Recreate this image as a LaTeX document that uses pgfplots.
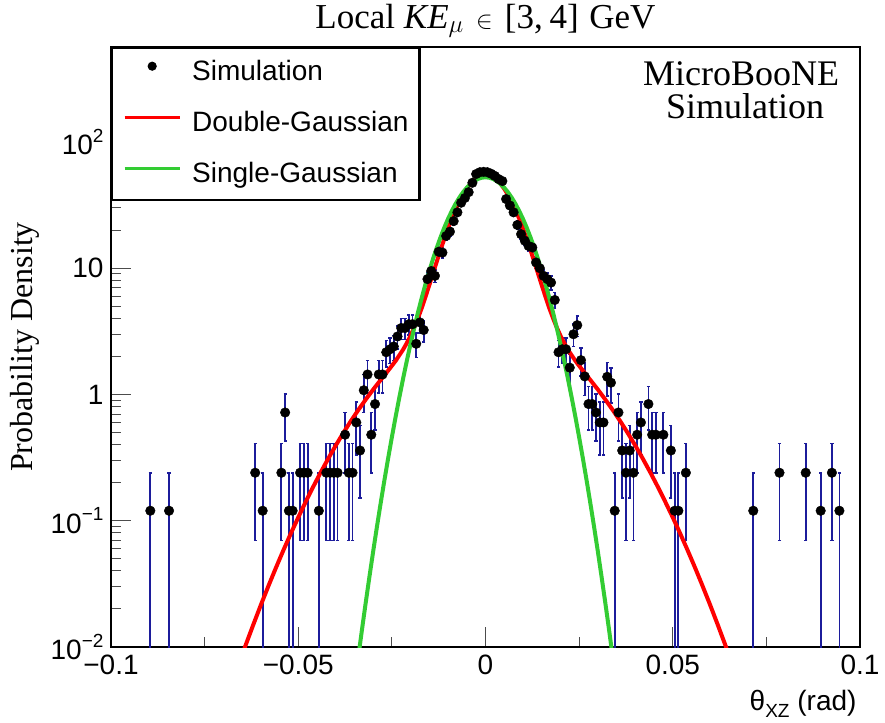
\documentclass[border=0pt]{standalone}
\usepackage{fontspec}
\setmainfont{Liberation Serif}
\newfontfamily\hel{Liberation Sans}
\usepackage{pgfplots}
\pgfplotsset{compat=1.18}
\usepackage{pgfplotstable}
\definecolor{ebar}{RGB}{28,28,155}
\definecolor{rootred}{RGB}{255,0,0}
\definecolor{rootgreen}{RGB}{51,204,51}

\pgfplotstableread{
x y e
-0.0895 0.12 0.1199
-0.0845 0.12 0.1199
-0.0615 0.24 0.170
-0.0595 0.12 0.1199
-0.0545 0.24 0.170
-0.0535 0.72 0.294
-0.0525 0.12 0.1199
-0.0515 0.12 0.1199
-0.0495 0.24 0.170
-0.0485 0.24 0.170
-0.0475 0.24 0.170
-0.0445 0.12 0.1199
-0.0425 0.24 0.170
-0.0415 0.24 0.170
-0.0405 0.24 0.170
-0.0395 0.24 0.170
-0.0375 0.48 0.240
-0.0365 0.24 0.170
-0.0355 0.24 0.170
-0.0345 0.60 0.268
-0.0335 0.36 0.208
-0.0325 1.08 0.360
-0.0315 1.44 0.416
-0.0305 0.48 0.240
-0.0295 0.84 0.317
-0.0285 1.44 0.416
-0.0275 1.44 0.416
-0.0265 2.16 0.509
-0.0255 2.28 0.523
-0.0245 2.40 0.537
-0.0235 2.88 0.588
-0.0225 3.36 0.635
-0.0215 3.36 0.635
-0.0205 3.60 0.657
-0.0195 3.60 0.657
-0.0185 2.52 0.550
-0.0175 3.72 0.668
-0.0165 3.24 0.624
-0.0155 8.2 0.99
-0.0145 9.5 1.07
-0.0135 8.7 1.02
-0.0125 13.5 1.27
-0.0115 13.3 1.26
-0.0105 18.0 1.47
-0.0095 19.5 1.53
-0.0085 23.6 1.68
-0.0075 27.7 1.82
-0.0065 33.0 1.99
-0.0055 36.0 2.08
-0.0045 40.0 2.19
-0.0035 47.5 2.39
-0.0025 55.7 2.59
-0.0015 57.6 2.63
-0.0005 58.0 2.64
0.0005 57.6 2.63
0.0015 56.0 2.59
0.0025 53.8 2.54
0.0035 50.8 2.47
0.0045 49.0 2.42
0.0055 35.3 2.06
0.0065 31.4 1.94
0.0075 27.7 1.82
0.0085 22.0 1.62
0.0095 18.6 1.49
0.0105 16.5 1.41
0.0115 15.0 1.34
0.0125 14.6 1.32
0.0135 11.1 1.15
0.0145 10.0 1.10
0.0155 8.7 1.02
0.0165 8.2 0.99
0.0175 7.7 0.96
0.0185 5.6 0.82
0.0195 2.16 0.509
0.0205 2.28 0.523
0.0215 2.28 0.523
0.0225 1.63 0.443
0.0235 3.0 0.60
0.0245 3.54 0.652
0.0255 1.87 0.474
0.0265 1.39 0.408
0.0275 0.84 0.317
0.0285 0.84 0.317
0.0295 0.72 0.294
0.0305 0.60 0.268
0.0315 0.60 0.268
0.0325 1.38 0.407
0.0335 1.24 0.385
0.0345 0.12 0.1199
0.0355 0.72 0.294
0.0365 0.36 0.208
0.0375 0.24 0.170
0.0385 0.36 0.208
0.0395 0.24 0.170
0.0405 0.48 0.240
0.0415 0.60 0.268
0.0435 0.84 0.317
0.0445 0.48 0.240
0.0455 0.48 0.240
0.0475 0.48 0.240
0.0495 0.36 0.208
0.0505 0.12 0.1199
0.0515 0.12 0.1199
0.0535 0.24 0.170
0.0715 0.12 0.1199
0.0785 0.24 0.170
0.0855 0.24 0.170
0.0895 0.12 0.1199
0.0925 0.24 0.170
0.0945 0.12 0.1199
}\simdata

\pgfplotstableread{
x y
-0.065 0.00864
-0.064 0.01043
-0.062 0.01504
-0.060 0.02146
-0.058 0.03025
-0.056 0.04215
-0.054 0.05806
-0.052 0.07906
-0.050 0.1063
-0.048 0.1414
-0.046 0.1860
-0.044 0.2416
-0.042 0.3103
-0.040 0.3939
-0.038 0.4941
-0.036 0.6129
-0.034 0.7515
-0.032 0.9107
-0.030 1.094
-0.028 1.302
-0.026 1.545
-0.024 1.847
-0.022 2.268
-0.021 2.558
-0.020 2.928
-0.019 3.412
-0.018 4.048
-0.017 4.857
-0.016 5.966
-0.015 7.361
-0.014 9.128
-0.013 11.31
-0.012 13.97
-0.011 17.09
-0.010 20.69
-0.009 24.71
-0.008 29.06
-0.007 33.61
-0.006 38.19
-0.005 42.59
-0.004 46.59
-0.003 49.99
-0.002 52.57
-0.001 54.19
0.000 54.74
0.001 54.19
0.002 52.57
0.003 49.99
0.004 46.59
0.005 42.59
0.006 38.19
0.007 33.61
0.008 29.06
0.009 24.71
0.010 20.69
0.011 17.09
0.012 13.97
0.013 11.31
0.014 9.128
0.015 7.361
0.016 5.966
0.017 4.857
0.018 4.048
0.019 3.412
0.020 2.928
0.021 2.558
0.022 2.268
0.024 1.847
0.026 1.545
0.028 1.302
0.030 1.094
0.032 0.9107
0.034 0.7515
0.036 0.6129
0.038 0.4941
0.040 0.3939
0.042 0.3103
0.044 0.2416
0.046 0.1860
0.048 0.1414
0.050 0.1063
0.052 0.07906
0.054 0.05806
0.056 0.04215
0.058 0.03025
0.060 0.02146
0.062 0.01504
0.064 0.01043
0.065 0.00864
}\doublegaus

\pgfplotstableread{
x y
-0.034 0.008197
-0.033 0.01362
-0.032 0.02229
-0.031 0.0359
-0.030 0.05702
-0.029 0.0892
-0.028 0.1374
-0.027 0.2087
-0.026 0.3118
-0.025 0.4590
-0.024 0.6656
-0.023 0.9503
-0.022 1.337
-0.021 1.853
-0.020 2.528
-0.019 3.398
-0.018 4.499
-0.017 5.867
-0.016 7.534
-0.015 9.534
-0.014 11.88
-0.013 14.57
-0.012 17.61
-0.011 20.97
-0.010 24.60
-0.009 28.40
-0.008 32.31
-0.007 36.21
-0.006 39.96
-0.005 43.43
-0.004 46.50
-0.003 49.04
-0.002 50.93
-0.001 52.10
0.000 52.50
0.001 52.10
0.002 50.93
0.003 49.04
0.004 46.50
0.005 43.43
0.006 39.96
0.007 36.21
0.008 32.31
0.009 28.40
0.010 24.60
0.011 20.97
0.012 17.61
0.013 14.57
0.014 11.88
0.015 9.534
0.016 7.534
0.017 5.867
0.018 4.499
0.019 3.398
0.020 2.528
0.021 1.853
0.022 1.337
0.023 0.9503
0.024 0.6656
0.025 0.4590
0.026 0.3118
0.027 0.2087
0.028 0.1374
0.029 0.0892
0.030 0.05702
0.031 0.0359
0.032 0.02229
0.033 0.01362
0.034 0.008197
}\singlegaus

\newcommand{\expo}[1]{\raisebox{0.45em}{\fontsize{19}{19}\selectfont #1}}

\begin{document}
\begin{tikzpicture}
\useasboundingbox (-111pt,-75pt) rectangle (774pt,647pt);
\begin{axis}[
  at={(0pt,0pt)}, anchor=south west,
  scale only axis, width=749pt, height=600pt,
  xmin=-0.1, xmax=0.1, ymode=log, ymin=0.01, ymax=565,
  axis line style={line width=2.4pt},
  tick align=inside, xtick pos=bottom, ytick pos=left,
  major tick length=20pt, minor tick length=10pt,
  every tick/.style={black!70, line width=1pt},
  xtick={-0.1,-0.05,0,0.05,0.1},
  xticklabels={−0.1,−0.05,0,0.05,0.1},
  minor xtick={-0.075,-0.025,0.025,0.075},
  ytick={0.01,0.1,1,10,100},
  yticklabels={10\expo{−2},10\expo{−1},1,10,10\expo{2}},
  minor ytick={0.02,0.03,0.04,0.05,0.06,0.07,0.08,0.09,0.2,0.3,0.4,0.5,0.6,0.7,0.8,0.9,2,3,4,5,6,7,8,9,20,30,40,50,60,70,80,90,200,300,400,500},
  ticklabel style={font=\hel\fontsize{28}{30}\selectfont},
  xticklabel style={yshift=-4pt},
  yticklabel style={xshift=-4pt},
  legend style={at={(0,1)}, anchor=north west, draw=black, line width=2.4pt,
    font=\hel\fontsize{28}{30}\selectfont, inner xsep=11pt, inner ysep=12pt,
    row sep=25pt, column sep=11pt,
    nodes={inner sep=0pt, text height=20pt, text depth=6pt}},
  legend cell align=left,
]
\addplot[only marks, mark=*, mark size=4.8pt, black,
  legend image code/.code={\fill[black] (27.5pt,7pt) circle (3.3pt);},
  error bars/.cd, y dir=both, y explicit,
  error bar style={ebar, line width=1.8pt},
  error mark options={ebar, rotate=90, mark size=1.6pt, line width=1.6pt}]
  table[x=x, y=y, y error=e] {\simdata};
\addlegendentry{Simulation}
\addplot[rootred, line width=4pt, no marks,
  legend image code/.code={\draw[rootred, line width=3pt] (0pt,7pt) -- (55pt,7pt);}]
  table[x=x, y=y] {\doublegaus};
\addlegendentry{Double-Gaussian\hspace{7pt}}
\addplot[rootgreen, line width=4pt, no marks,
  legend image code/.code={\draw[rootgreen, line width=3pt] (0pt,7pt) -- (55pt,7pt);}]
  table[x=x, y=y] {\singlegaus};
\addlegendentry{Single-Gaussian}
\end{axis}
\node[anchor=base, inner sep=0pt, font=\fontsize{35}{37}\selectfont] at (374.5pt,618pt) {Local \textit{KE}$_{\mu}$\hspace{0.35em}$\in$\hspace{0.35em}[3,\hspace{0.2em}4]\hspace{0.3em}GeV};
\node[anchor=base, font=\fontsize{36}{38}\selectfont] at (630pt,561pt) {MicroBooNE};
\node[anchor=base, font=\fontsize{36}{38}\selectfont] at (634pt,528pt) {Simulation};
\node[anchor=base, rotate=90, font=\fontsize{32}{34}\selectfont] at (-78pt,300pt) {Probability Density};
\node[anchor=base east, font=\hel\fontsize{28}{30}\selectfont] at (749pt,-63pt) {θ\raisebox{-0.25em}{\fontsize{19}{19}\selectfont XZ} (rad)};
\end{tikzpicture}
\end{document}
